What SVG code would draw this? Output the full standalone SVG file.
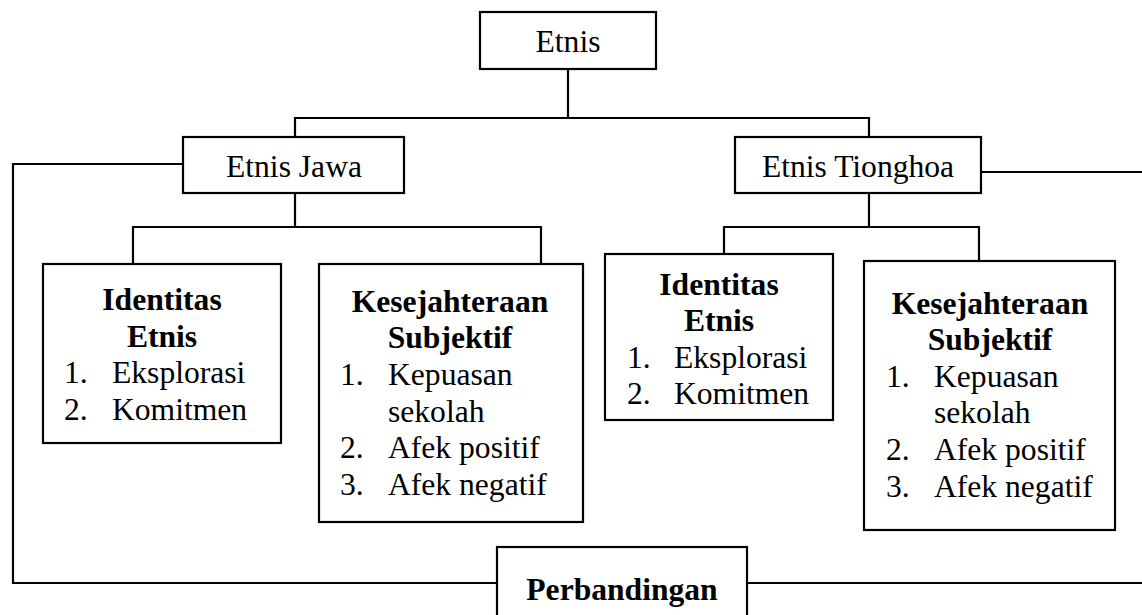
<svg xmlns="http://www.w3.org/2000/svg" width="1142" height="615" viewBox="0 0 1142 615">
<style>
.box{fill:#fff;stroke:#000;stroke-width:2.2}
.ln{fill:none;stroke:#000;stroke-width:2.2}
.t{font-size:31.6px;fill:#000}
.b{font-weight:bold}
.c{text-anchor:middle}
</style>
<rect width="1142" height="615" fill="#fff"/>
<g id="connectors">
<polyline class="ln" points="568,69 568,118"/>
<polyline class="ln" points="295,137 295,118 869,118 869,137"/>
<polyline class="ln" points="295,193 295,227"/>
<polyline class="ln" points="133,264 133,227 541,227 541,264"/>
<polyline class="ln" points="869,193 869,227"/>
<polyline class="ln" points="724,254 724,227 979,227 979,261"/>
<polyline class="ln" points="183,164 13,164 13,583 497,583"/>
<polyline class="ln" points="981,172 1142,172"/>
<polyline class="ln" points="747,583 1142,583"/>
</g>
<g class="t" font-family="Liberation Serif, Times New Roman, serif">
<g id="etnis">
<rect class="box" x="480" y="12" width="176" height="57"/>
<text class="c" x="568" y="52">Etnis</text>
</g>
<g id="etnis-jawa">
<rect class="box" x="183" y="137" width="221" height="56"/>
<text class="c" x="294" y="177">Etnis Jawa</text>
</g>
<g id="etnis-tionghoa">
<rect class="box" x="735" y="137" width="246" height="56"/>
<text class="c" x="858" y="177">Etnis Tionghoa</text>
</g>
<g id="identitas-jawa">
<rect class="box" x="43" y="264" width="238" height="179"/>
<text class="b c" x="162" y="310">Identitas</text>
<text class="b c" x="162" y="347">Etnis</text>
<text x="64" y="383">1.</text><text x="112" y="383">Eksplorasi</text>
<text x="64" y="420">2.</text><text x="112" y="420">Komitmen</text>
</g>
<g id="kesejahteraan-jawa">
<rect class="box" x="319" y="264" width="264" height="258"/>
<text class="b c" x="450" y="312">Kesejahteraan</text>
<text class="b c" x="450" y="348">Subjektif</text>
<text x="340" y="385">1.</text><text x="388" y="385">Kepuasan</text>
<text x="388" y="422">sekolah</text>
<text x="340" y="458">2.</text><text x="388" y="458">Afek positif</text>
<text x="340" y="495">3.</text><text x="388" y="495">Afek negatif</text>
</g>
<g id="identitas-tionghoa">
<rect class="box" x="605" y="254" width="228" height="166"/>
<text class="b c" x="719" y="295">Identitas</text>
<text class="b c" x="719" y="331">Etnis</text>
<text x="627" y="368">1.</text><text x="674" y="368">Eksplorasi</text>
<text x="627" y="404">2.</text><text x="674" y="404">Komitmen</text>
</g>
<g id="kesejahteraan-tionghoa">
<rect class="box" x="864" y="261" width="251" height="269"/>
<text class="b c" x="990" y="314">Kesejahteraan</text>
<text class="b c" x="990" y="350">Subjektif</text>
<text x="886" y="387">1.</text><text x="934" y="387">Kepuasan</text>
<text x="934" y="423">sekolah</text>
<text x="886" y="460">2.</text><text x="934" y="460">Afek positif</text>
<text x="886" y="497">3.</text><text x="934" y="497">Afek negatif</text>
</g>
<g id="perbandingan">
<rect class="box" x="497" y="547" width="250" height="80"/>
<text class="b c" x="622" y="600">Perbandingan</text>
</g>
</g>
</svg>
